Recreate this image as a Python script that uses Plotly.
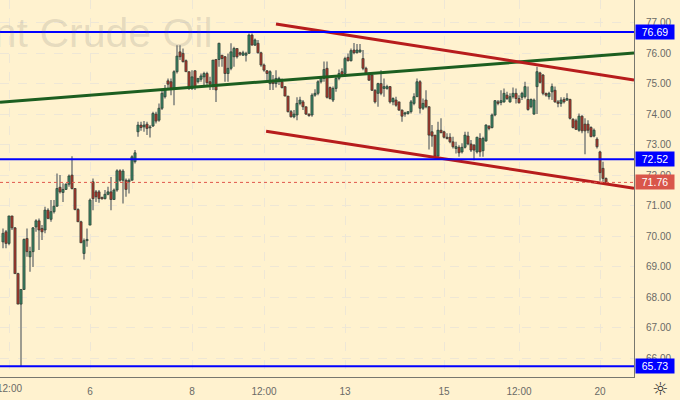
import plotly.graph_objects as go

opens = [
69.81,70.14,69.76,70.66,70.27,68.77,67.77,68.25,69.92,69.32,
69.49,70.30,70.50,70.25,70.20,70.85,70.55,70.80,70.98,71.60,
71.43,71.53,71.70,72.00,71.56,70.87,70.47,69.43,69.85,70.36,
71.78,71.45,71.45,71.27,71.23,71.37,71.45,71.20,71.51,72.14,
71.83,71.83,71.78,71.83,72.44,73.42,73.64,73.58,73.67,73.55,
73.61,74.00,73.80,74.19,74.57,75.09,75.06,74.84,75.39,76.04,
75.99,75.75,75.39,74.84,75.42,75.06,75.14,75.22,75.33,75.06,
74.90,75.79,75.79,75.93,75.88,75.33,75.50,75.88,76.15,76.01,
75.93,75.93,75.99,76.59,76.26,76.32,76.01,75.61,75.42,75.00,
75.11,75.00,75.11,75.06,74.90,74.59,74.08,73.91,73.97,74.35,
74.40,74.24,74.00,73.97,74.62,74.68,75.06,75.17,75.50,74.87,
74.46,74.84,75.17,75.39,75.33,75.86,75.75,76.10,76.01,76.04,
75.82,75.50,75.33,75.28,74.78,74.68,75.00,74.84,74.84,74.90,
74.40,74.46,74.40,74.13,74.00,74.02,74.08,74.35,74.57,75.06,
74.19,74.46,74.24,73.42,73.31,72.62,73.47,73.42,73.24,73.24,
73.09,72.87,72.91,72.76,72.91,73.28,73.02,72.98,72.76,73.20,
72.80,73.12,73.60,73.56,73.97,74.40,74.38,74.40,74.62,74.40,
74.57,74.68,74.51,74.55,74.57,74.48,74.24,74.00,74.90,75.35,
75.28,74.68,74.57,74.73,74.78,74.40,74.35,74.48,74.46,74.48,
73.83,73.78,73.47,73.93,73.67,73.67,73.56,73.28,73.18,72.76,
72.22,71.89]
highs = [
70.25,70.20,70.66,70.66,70.30,68.80,68.25,69.92,70.25,69.65,
70.30,70.55,70.58,70.36,70.96,70.91,71.18,71.18,72.05,72.00,
71.73,71.73,72.02,72.62,71.56,70.91,70.50,69.92,70.25,71.23,
71.89,71.51,71.51,71.29,71.51,71.62,71.94,71.56,72.19,72.19,
72.19,71.89,71.89,72.65,72.82,73.75,73.75,73.77,73.75,73.64,
74.08,74.08,74.35,74.79,74.95,75.17,75.17,75.44,76.26,76.26,
76.15,75.79,75.39,75.44,75.44,75.17,75.33,75.39,75.39,75.22,
75.77,75.79,76.34,75.93,75.90,75.99,76.32,76.21,76.15,76.04,
76.08,76.04,76.64,76.64,76.48,76.43,76.04,75.66,75.44,75.44,
75.28,75.44,75.22,75.17,74.90,74.59,74.13,74.13,74.55,74.57,
74.46,74.24,74.02,74.68,74.81,75.11,75.17,75.72,75.72,74.90,
74.90,75.22,75.46,75.50,75.88,75.99,76.15,76.33,76.30,76.30,
76.10,75.55,75.37,75.33,74.81,75.03,75.44,75.17,74.96,74.92,
74.55,74.57,74.40,74.15,74.08,74.08,74.46,74.68,75.17,75.11,
74.51,74.78,74.26,73.64,73.31,73.75,73.86,73.45,73.37,73.37,
73.26,73.09,72.98,73.04,73.42,73.42,73.15,73.02,73.26,73.37,
73.26,73.67,73.64,74.02,74.46,74.46,74.78,74.84,74.73,74.68,
74.87,74.84,74.62,74.73,75.06,74.90,74.51,74.51,75.55,75.39,
75.31,74.70,74.73,75.00,74.90,74.46,74.55,74.55,74.68,74.50,
73.86,73.85,74.02,73.96,73.86,73.80,73.60,73.53,73.24,72.80,
72.44,71.92]
lows = [
69.60,69.60,69.70,70.20,68.77,67.77,65.73,68.23,69.32,68.83,
68.99,70.14,69.54,69.87,70.09,70.55,70.47,70.74,70.96,71.40,
71.12,71.51,71.62,71.53,70.85,70.47,69.78,69.23,69.65,70.36,
70.85,71.12,71.09,71.20,71.20,71.34,70.85,71.18,71.45,71.78,
71.07,71.29,71.40,71.83,72.38,73.26,73.45,73.42,73.31,73.23,
73.58,73.69,73.75,74.13,74.51,74.79,74.62,74.29,75.33,75.77,
75.69,75.39,74.79,74.79,74.79,75.00,75.06,74.95,74.95,74.79,
74.79,74.40,75.55,75.55,75.06,75.06,75.44,75.55,75.82,75.90,
75.90,75.72,75.99,76.26,76.23,75.99,75.55,75.39,75.11,74.79,
74.79,74.87,74.95,74.84,74.59,74.05,73.89,73.86,73.80,74.29,
74.13,73.97,73.91,73.91,74.57,74.62,75.00,75.06,74.51,74.48,
74.40,74.73,75.11,75.24,75.28,75.72,75.72,75.96,75.99,76.00,
75.44,75.28,75.09,74.76,74.35,74.24,74.62,74.57,74.80,74.35,
74.29,74.24,74.11,73.75,73.91,73.98,74.02,74.29,74.57,74.02,
74.13,74.19,72.84,72.93,72.60,72.60,73.37,73.20,73.17,73.04,
72.87,72.71,72.60,72.71,72.87,72.98,72.76,72.49,72.71,72.60,
72.60,73.09,73.47,73.53,73.93,74.29,74.29,74.37,74.46,74.37,
74.51,74.35,74.35,74.46,74.51,74.11,74.19,73.98,74.00,75.00,
74.62,74.57,74.48,74.46,74.37,74.22,74.24,74.35,74.43,73.82,
73.53,73.48,73.42,73.37,72.68,73.37,73.24,73.24,72.87,71.81,
71.78,71.76]
closes = [
70.09,69.76,70.66,70.27,68.77,67.77,68.25,69.89,69.49,69.49,
70.27,70.50,70.20,70.14,70.85,70.58,70.80,70.98,71.56,71.45,
71.53,71.70,71.97,71.56,70.87,70.47,69.78,69.85,69.89,71.18,
71.23,71.29,71.23,71.22,71.37,71.45,71.20,71.51,72.14,71.83,
72.13,71.53,71.83,72.60,72.73,73.64,73.56,73.64,73.53,73.58,
74.02,73.77,74.19,74.68,74.84,74.98,74.84,75.39,75.90,75.88,
75.72,75.39,74.84,75.22,74.90,75.17,75.25,75.33,75.03,74.98,
75.77,74.79,76.32,75.82,75.33,75.50,76.04,76.15,75.88,75.96,
76.01,75.99,76.59,76.26,76.43,76.01,75.61,75.44,75.33,75.39,
75.00,75.17,75.17,74.87,74.59,74.08,73.91,74.00,74.35,74.46,
74.24,74.00,73.95,74.62,74.68,75.06,75.17,75.46,74.55,74.51,
74.84,75.17,75.33,75.28,75.82,75.75,76.08,76.01,76.10,76.10,
75.50,75.33,75.11,74.78,74.40,75.00,74.68,74.90,74.90,74.40,
74.51,74.29,74.13,73.93,74.04,74.08,74.40,74.57,75.06,74.19,
74.35,74.24,73.31,73.28,72.62,73.47,73.39,73.24,73.20,73.09,
72.93,72.93,72.73,72.91,73.31,73.02,72.82,72.82,73.24,72.76,
73.20,73.64,73.53,73.97,74.44,74.35,74.44,74.68,74.51,74.57,
74.68,74.51,74.37,74.68,74.90,74.15,74.48,74.46,75.39,75.04,
74.68,74.62,74.68,74.90,74.40,74.35,74.46,74.40,74.51,73.86,
73.56,73.50,73.93,73.45,73.45,73.47,73.26,73.47,72.93,72.08,
71.89,71.76]

tick_index = [3, 30, 64, 88, 115, 148, 173, 200]
tick_labels = ["", "6", "8", "12:00", "13", "15", "12:00", "20"]
first_tick_label = "12:00"

green_line_x = [0, 211.33]
green_line_y = [74.39, 76.0]
upper_red_x = [92, 211.33]
upper_red_y = [76.95, 75.12]
lower_red_x = [88.7, 211.33]
lower_red_y = [73.44, 71.57]

blue_levels = [76.69, 72.52, 65.73]
last_price = 71.76

BG = "#fff2cf"
GRID = "#eee7d6"
TXT = "#6a6a66"
GREEN = "#3b8565"
RED = "#b5372b"
EDGE = "#2b3a30"
WICK = "#9d9c90"

x = list(range(1, len(closes) + 1))
wick_height = [h - l for h, l in zip(highs, lows)]
body_base = [min(o, c) for o, c in zip(opens, closes)]
body_height = [abs(o - c) for o, c in zip(opens, closes)]
body_color = [GREEN if c >= o else RED for o, c in zip(opens, closes)]

fig = go.Figure()
fig.add_trace(go.Bar(x=x, y=wick_height, base=lows, width=0.3,
                     marker=dict(color=WICK, line=dict(width=0))))
fig.add_trace(go.Bar(x=x, y=body_height, base=body_base, width=0.72,
                     marker=dict(color=body_color, line=dict(color=EDGE, width=0.7))))

for lx, ly, col in [(green_line_x, green_line_y, "#1c5e20"),
                    (upper_red_x, upper_red_y, "#b71c1c"),
                    (lower_red_x, lower_red_y, "#b71c1c")]:
    fig.add_trace(go.Scatter(x=lx, y=ly, mode="lines", line=dict(color=col, width=3)))

for lvl in blue_levels:
    fig.add_trace(go.Scatter(x=[0, 211.33], y=[lvl, lvl], mode="lines",
                             line=dict(color="#0000ff", width=2)))
fig.add_trace(go.Scatter(x=[0, 211.33], y=[last_price, last_price], mode="lines",
                         line=dict(color="#e0574c", width=1, dash="dot")))

annotations = [
    dict(text="Brent Crude Oil", xref="paper", yref="paper", x=215 / 634, y=1 - 33 / 377,
         xanchor="right", yanchor="middle", showarrow=False,
         font=dict(family="Liberation Sans", size=41, color="rgba(100,100,100,0.17)")),
    dict(text="\u263c", xref="paper", yref="paper", x=660 / 634, y=-12 / 377,
         xanchor="center", yanchor="middle", showarrow=False,
         font=dict(family="DejaVu Sans", size=18, color="#333333")),
    dict(text=first_tick_label, xref="x", yref="paper", x=tick_index[0], y=-11 / 377,
         xanchor="center", yanchor="middle", showarrow=False,
         font=dict(family="Liberation Sans", size=10, color=TXT)),
]
for lvl in blue_levels:
    annotations.append(dict(text=f"{lvl:.2f}", xref="paper", yref="y", x=1.001, y=lvl,
                            xanchor="left", yanchor="middle", showarrow=False,
                            width=38, height=14, bgcolor="#0000ff", borderpad=0,
                            font=dict(family="Liberation Sans", size=10.5, color="white")))
annotations.append(dict(text=f"{last_price:.2f}", xref="paper", yref="y", x=1.001, y=last_price,
                        xanchor="left", yanchor="middle", showarrow=False,
                        width=38, height=14, bgcolor="#d9564a", borderpad=0,
                        font=dict(family="Liberation Sans", size=10.5, color="white")))

fig.update_layout(
    width=680, height=400, autosize=False,
    margin=dict(l=0, r=46, t=0, b=23),
    paper_bgcolor=BG, plot_bgcolor=BG,
    showlegend=False, barmode="overlay",
    annotations=annotations,
    font=dict(family="Liberation Sans", size=10, color=TXT),
)
fig.update_xaxes(range=[0, 211.33], tickmode="array", tickvals=tick_index, ticktext=tick_labels,
                 showgrid=True, gridcolor=GRID, griddash="dash", gridwidth=1, zeroline=False,
                 showline=True, linecolor="#77776e", linewidth=1,
                 ticks="outside", ticklen=5, tickcolor=BG,
                 tickfont=dict(family="Liberation Sans", size=10, color=TXT))
fig.update_yaxes(range=[65.38, 77.74], side="right", dtick=1, tick0=65, tickformat=".2f",
                 showgrid=True, gridcolor=GRID, griddash="dash", gridwidth=1, zeroline=False,
                 showline=True, linecolor="#77776e", linewidth=1,
                 ticks="outside", ticklen=9, tickcolor=BG,
                 tickfont=dict(family="Liberation Sans", size=10, color=TXT))

fig.write_html("out.html", config={"displayModeBar": False},
               post_script="document.body.style.margin='0';document.body.style.background='%s';" % BG)
